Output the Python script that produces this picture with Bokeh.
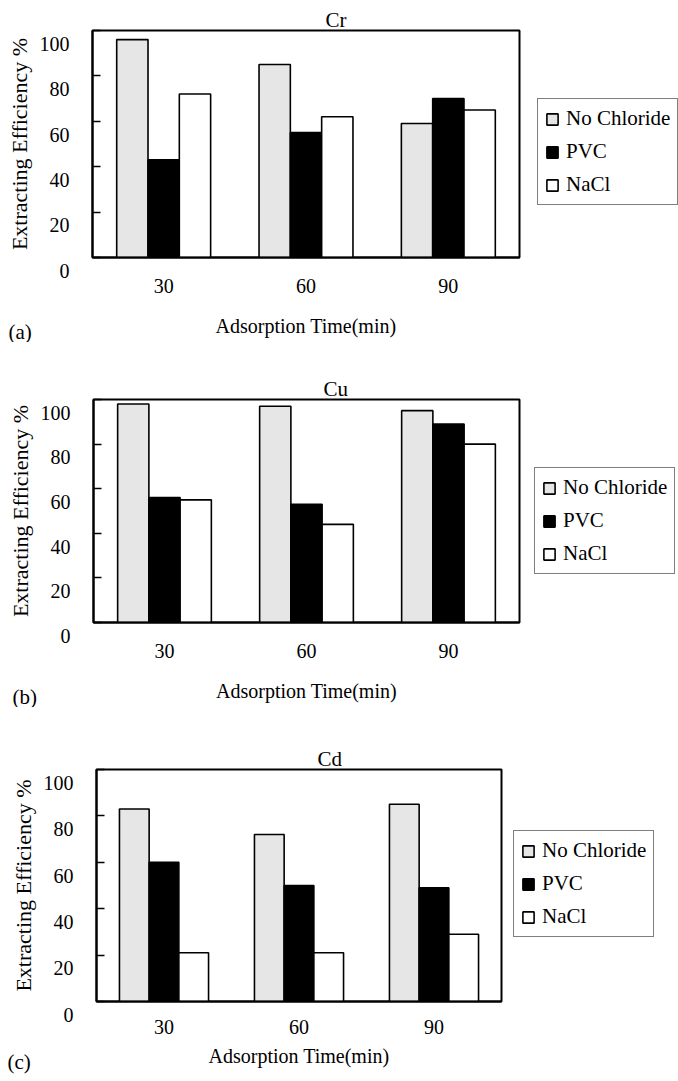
from bokeh.plotting import figure
from bokeh.models import (ColumnDataSource, FactorRange, Range1d, FixedTicker,
                          Legend, LegendItem, Title)
from bokeh.transform import dodge
from bokeh.embed import file_html
from bokeh.resources import INLINE

# ---------------- data ----------------
times = ["30", "60", "90"]
series_names = ["No Chloride", "PVC", "NaCl"]
y_ticks = [0, 20, 40, 60, 80, 100]

cr_no_chloride = [96, 85, 59]
cr_pvc = [43, 55, 70]
cr_nacl = [72, 62, 65]

cu_no_chloride = [98, 97, 95]
cu_pvc = [56, 53, 89]
cu_nacl = [55, 44, 80]

cd_no_chloride = [83, 72, 85]
cd_pvc = [60, 50, 49]
cd_nacl = [21, 21, 29]

panel_titles = ["Cr", "Cu", "Cd"]
panel_tags = ["(a)", "(b)", "(c)"]
x_label = "Adsorption Time(min)"
y_label = "Extracting Efficiency %"

FONT = "Liberation Serif"
FILLS = ["#e6e6e6", "#000000", "#ffffff"]
BAR_W = 0.22
OFFSETS = [-0.22, 0.0, 0.22]


def make_panel(title, tag, vals, fw, fh, bl, bt, bb, title_dx, tag_dx,
               tick_standoff, xlab_standoff, legend_xy):
    src = ColumnDataSource(dict(t=times, s0=vals[0], s1=vals[1], s2=vals[2]))
    p = figure(width=678, height=bt + fh + bb, frame_width=fw, frame_height=fh,
               x_range=FactorRange(*times), y_range=Range1d(0, 100),
               output_backend="svg", toolbar_location=None,
               min_border_left=bl, min_border_right=678 - bl - fw,
               min_border_top=bt, min_border_bottom=bb)
    p.background_fill_color = "white"
    p.border_fill_color = "white"
    p.outline_line_color = "black"
    p.outline_line_width = 2
    p.xgrid.grid_line_color = None
    p.ygrid.grid_line_color = None

    rends = []
    for i, key in enumerate(["s0", "s1", "s2"]):
        r = p.vbar(x=dodge("t", OFFSETS[i], range=p.x_range), top=key,
                   width=BAR_W, source=src, fill_color=FILLS[i],
                   line_color="black", line_width=1.6)
        rends.append(r)

    # y axis: labels sit a little below their ticks, as in the original
    p.yaxis.ticker = FixedTicker(ticks=y_ticks)
    p.yaxis.major_label_overrides = {v: "\n" + str(v) for v in y_ticks}
    p.yaxis.major_tick_in = 8
    p.yaxis.major_tick_out = 0
    p.yaxis.minor_tick_line_color = None
    p.yaxis.major_tick_line_width = 1.5
    p.yaxis.major_tick_line_color = "black"
    p.yaxis.major_label_standoff = 23
    p.yaxis.axis_line_width = 2
    p.yaxis.axis_label = y_label
    p.yaxis.axis_label_standoff = 5

    p.xaxis.major_tick_line_color = None
    p.xaxis.major_tick_out = 0
    p.xaxis.major_tick_in = 0
    p.xaxis.major_label_standoff = tick_standoff
    p.xaxis.axis_line_width = 2
    p.xaxis.axis_label = x_label
    p.xaxis.axis_label_standoff = xlab_standoff

    for ax in (p.xaxis[0], p.yaxis[0]):
        ax.major_label_text_font = FONT
        ax.major_label_text_font_size = "20px"
        ax.major_label_text_color = "black"
        ax.axis_label_text_font = FONT
        ax.axis_label_text_font_size = "20px"
        ax.axis_label_text_font_style = "normal"
        ax.axis_label_text_color = "black"
        ax.axis_line_color = "black"
    p.yaxis.axis_label_text_font_size = "22px"

    # panel title just above the frame, right of centre
    p.add_layout(Title(text=title, align="left", offset=title_dx, standoff=-2,
                       text_font=FONT, text_font_size="21px",
                       text_font_style="normal", text_color="black"), "above")
    # panel tag near the x-label line, at the far left
    p.add_layout(Title(text=tag, align="left", offset=tag_dx, standoff=-40,
                       vertical_align="top",
                       text_font=FONT, text_font_size="21px",
                       text_font_style="normal", text_color="black"), "below")

    legend = Legend(items=[LegendItem(label=series_names[i], renderers=[rends[i]])
                           for i in range(3)],
                    location=legend_xy, orientation="vertical")
    legend.label_text_font = FONT
    legend.label_text_font_size = "21px"
    legend.label_text_font_style = "normal"
    legend.label_text_color = "black"
    legend.glyph_width = 14
    legend.glyph_height = 14
    legend.label_standoff = 7
    legend.spacing = 8
    legend.padding = 7
    legend.margin = 0
    legend.border_line_color = "black"
    legend.border_line_width = 1.2
    legend.background_fill_alpha = 1
    p.add_layout(legend, "right")
    return p


pa = make_panel(panel_titles[0], panel_tags[0],
                [cr_no_chloride, cr_pvc, cr_nacl],
                427, 227, 92, 30, 85, 233, -84, 21, 19, (18, 52))
pb = make_panel(panel_titles[1], panel_tags[1],
                [cu_no_chloride, cu_pvc, cu_nacl],
                426, 223, 93, 57, 85, 230, -81, 21, 19, (15, 48))
pc = make_panel(panel_titles[2], panel_tags[2],
                [cd_no_chloride, cd_pvc, cd_nacl],
                405, 232, 96, 62, 77, 221, -89, 18, 8, (12, 64))

open("out.html", "w").write(file_html([pa, pb, pc], INLINE))
